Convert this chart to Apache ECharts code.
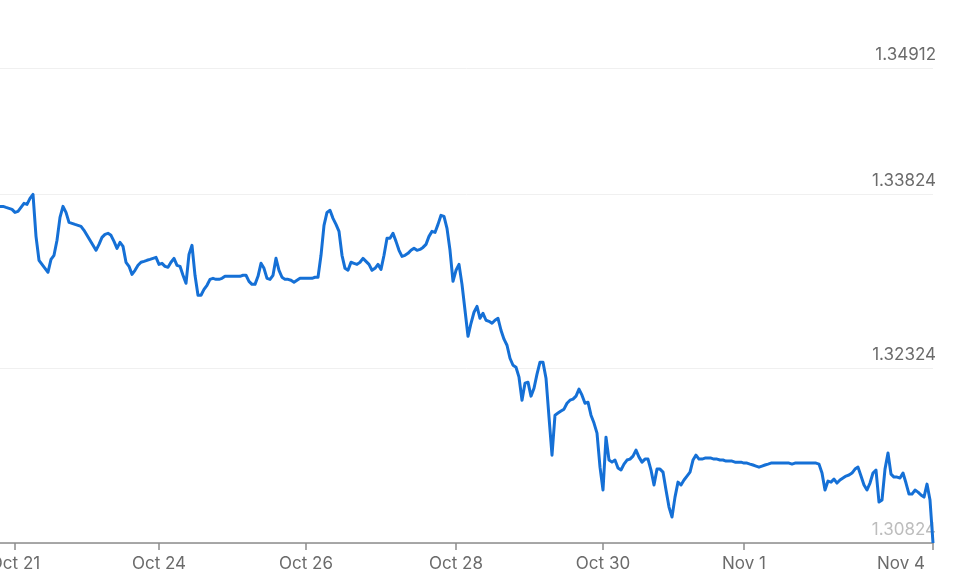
<!DOCTYPE html>
<html><head><meta charset="utf-8">
<script src="https://cdn.jsdelivr.net/npm/echarts@6/dist/echarts.min.js"></script>
<style>html,body{margin:0;padding:0;background:#fff}#c{width:980px;height:585px}</style>
</head><body><div id="c"></div>
<script>
const tickLabels = ['Oct 21', 'Oct 24', 'Oct 26', 'Oct 28', 'Oct 30', 'Nov 1', 'Nov 4'];
const tickIndex = [5, 53, 102, 152, 201, 248, 311];
const yMin = 1.30824;
const yMax = 1.34912;
const yStep = 0.015;
const rates = [
1.33721,1.33721,1.33712,1.33704,1.33695,1.33669,1.33678,1.33712,1.33747,1.33738,
1.33790,1.33824,1.33463,1.33257,1.33222,1.33188,1.33154,1.33265,1.33300,1.33429,
1.33626,1.33721,1.33669,1.33583,1.33575,1.33566,1.33558,1.33549,1.33515,1.33472,
1.33429,1.33386,1.33343,1.33394,1.33454,1.33480,1.33489,1.33472,1.33420,1.33360,
1.33411,1.33377,1.33240,1.33205,1.33136,1.33171,1.33214,1.33240,1.33248,1.33257,
1.33265,1.33274,1.33282,1.33222,1.33231,1.33205,1.33197,1.33240,1.33274,1.33214,
1.33205,1.33128,1.33059,1.33308,1.33386,1.33128,1.32956,1.32956,1.33007,1.33042,
1.33093,1.33102,1.33093,1.33093,1.33102,1.33119,1.33119,1.33119,1.33119,1.33119,
1.33119,1.33128,1.33128,1.33076,1.33050,1.33050,1.33119,1.33231,1.33188,1.33102,
1.33093,1.33128,1.33274,1.33171,1.33111,1.33093,1.33093,1.33085,1.33068,1.33085,
1.33102,1.33102,1.33102,1.33102,1.33102,1.33111,1.33111,1.33300,1.33558,1.33669,
1.33687,1.33618,1.33566,1.33506,1.33300,1.33188,1.33171,1.33240,1.33231,1.33222,
1.33240,1.33274,1.33248,1.33222,1.33171,1.33188,1.33222,1.33179,1.33300,1.33446,
1.33446,1.33489,1.33420,1.33343,1.33291,1.33300,1.33317,1.33343,1.33360,1.33343,
1.33351,1.33368,1.33394,1.33463,1.33506,1.33497,1.33566,1.33644,1.33635,1.33532,
1.33343,1.33076,1.33171,1.33222,1.33050,1.32827,1.32603,1.32715,1.32810,1.32861,
1.32758,1.32801,1.32741,1.32732,1.32715,1.32741,1.32758,1.32655,1.32578,1.32526,
1.32414,1.32354,1.32337,1.32251,1.32053,1.32199,1.32208,1.32088,1.32156,1.32277,
1.32380,1.32380,1.32242,1.31907,1.31580,1.31924,1.31942,1.31959,1.31976,1.32027,
1.32053,1.32062,1.32088,1.32148,1.32096,1.32027,1.32036,1.31924,1.31856,1.31770,
1.31477,1.31280,1.31735,1.31538,1.31520,1.31538,1.31469,1.31452,1.31503,1.31538,
1.31546,1.31572,1.31623,1.31563,1.31520,1.31546,1.31546,1.31452,1.31323,1.31460,
1.31460,1.31434,1.31280,1.31133,1.31048,1.31219,1.31348,1.31323,1.31366,1.31400,
1.31434,1.31538,1.31580,1.31546,1.31546,1.31555,1.31555,1.31555,1.31546,1.31546,
1.31538,1.31538,1.31529,1.31529,1.31529,1.31520,1.31520,1.31520,1.31512,1.31512,
1.31503,1.31495,1.31486,1.31477,1.31486,1.31495,1.31503,1.31512,1.31512,1.31512,
1.31512,1.31512,1.31512,1.31512,1.31503,1.31512,1.31512,1.31512,1.31512,1.31512,
1.31512,1.31512,1.31512,1.31503,1.31426,1.31280,1.31357,1.31348,1.31374,1.31340,
1.31366,1.31383,1.31400,1.31409,1.31426,1.31460,1.31477,1.31400,1.31323,1.31280,
1.31340,1.31426,1.31452,1.31176,1.31194,1.31460,1.31598,1.31417,1.31391,1.31391,
1.31383,1.31426,1.31340,1.31245,1.31245,1.31280,1.31262,1.31237,1.31219,1.31331,
1.31194,1.30824
];

const categories = rates.map((_, i) => {
  const k = tickIndex.indexOf(i);
  return k >= 0 ? tickLabels[k] : 'p' + i;
});
const isTick = (i) => tickIndex.indexOf(i) >= 0;
const lastTick = tickIndex[tickIndex.length - 1];

const chart = echarts.init(document.getElementById('c'), null, { renderer: 'canvas' });
chart.setOption({
  animation: false,
  backgroundColor: '#ffffff',
  grid: { left: 0, right: 47, top: 68, bottom: 42, containLabel: false, outerBoundsMode: 'none' },
  xAxis: {
    type: 'category',
    data: categories,
    boundaryGap: false,
    axisLine: { show: true, lineStyle: { color: '#8c8c8c', width: 1.5 } },
    axisTick: { show: true, interval: (i) => isTick(i), length: 7, lineStyle: { color: '#8c8c8c', width: 1.5 } },
    axisLabel: {
      interval: (i) => isTick(i),
      margin: 12,
      fontFamily: 'Inter',
      fontSize: 17,
      color: '#6b6b6b',
      alignMaxLabel: 'right',
      formatter: (v, i) => (i === lastTick ? '{last|' + v + '}' : v),
      rich: { last: { fontFamily: 'Inter', fontSize: 17, color: '#6b6b6b', padding: [0, 8, 0, 0] } }
    },
    splitLine: { show: false }
  },
  yAxis: {
    type: 'value',
    position: 'right',
    min: yMin,
    max: yMax,
    interval: yStep,
    axisLine: { show: false },
    axisTick: { show: false },
    splitLine: { show: true, lineStyle: { color: '#f0f0f0', width: 1 } },
    axisLabel: {
      inside: true,
      margin: -3,
      verticalAlign: 'bottom',
      padding: [0, 0, 5, 0],
      fontFamily: 'Inter',
      fontSize: 17,
      color: (v) => (Math.abs(v - yMin) < 1e-7 ? '#bdbdbd' : '#6b6b6b'),
      formatter: (v) => v.toFixed(5)
    }
  },
  series: [{
    type: 'line',
    data: rates,
    symbol: 'none',
    showSymbol: false,
    lineStyle: { color: '#1570d6', width: 3, join: 'round' },
    z: 3
  }]
});
</script>
</body></html>
